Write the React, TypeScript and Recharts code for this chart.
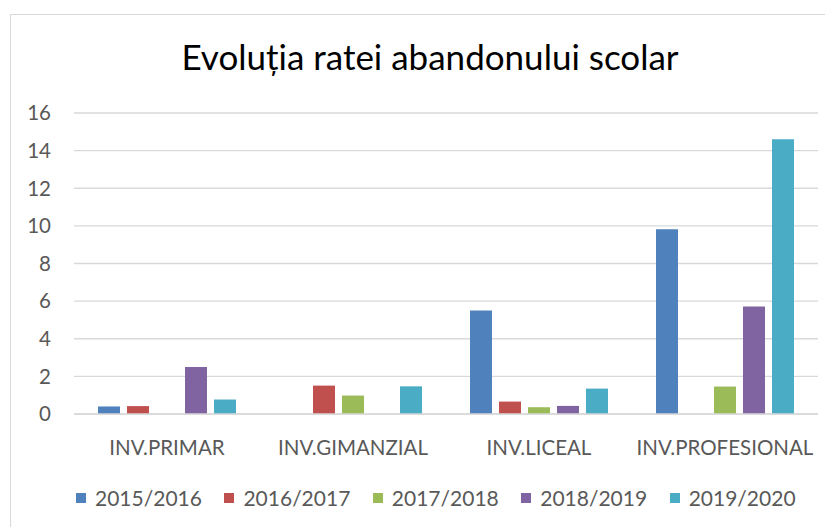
import React from "react";
import { BarChart, Bar, XAxis, YAxis, CartesianGrid, Legend } from "recharts";

const categories = ["INV.PRIMAR", "INV.GIMANZIAL", "INV.LICEAL", "INV.PROFESIONAL"];
const s2015 = [0.4, 0, 5.5, 9.82];
const s2016 = [0.42, 1.51, 0.66, 0];
const s2017 = [0, 0.98, 0.36, 1.46];
const s2018 = [2.5, 0, 0.43, 5.71];
const s2019 = [0.77, 1.47, 1.35, 14.61];
const seriesNames = ["2015/2016", "2016/2017", "2017/2018", "2018/2019", "2019/2020"];
const seriesColors = ["#4F81BD", "#C0504D", "#9BBB59", "#8064A2", "#4BACC6"];
const yTicks = [0, 2, 4, 6, 8, 10, 12, 14, 16];

const seriesValues = [s2015, s2016, s2017, s2018, s2019];
const data = categories.map((c, i) => {
  const row: Record<string, string | number> = { name: c };
  seriesNames.forEach((s, k) => {
    row[s] = seriesValues[k][i];
  });
  return row;
});

const FONT = "Lato, 'Open Sans', sans-serif";

const LegendContent = () => (
  <div
    style={{
      display: "flex",
      justifyContent: "flex-start",
      paddingLeft: 68,
      fontFamily: FONT,
      fontSize: 21,
      color: "#595959",
    }}
  >
    {seriesNames.map((s, i) => (
      <div key={s} style={{ display: "flex", alignItems: "center", width: 148.5 }}>
        <span
          style={{
            display: "inline-block",
            width: 10,
            height: 10,
            background: seriesColors[i],
            marginRight: 9,
          }}
        />
        <span>{s}</span>
      </div>
    ))}
  </div>
);

export default function App() {
  return (
    <div style={{ position: "relative", width: 825, height: 519, overflow: "hidden", background: "#fff" }}>
      <div
        style={{
          position: "absolute",
          left: 2,
          top: 6,
          width: 900,
          height: 600,
          border: "1.5px solid #d9d9d9",
          boxSizing: "border-box",
        }}
      />
      <div
        style={{
          position: "absolute",
          left: 0,
          width: 844,
          top: 26,
          textAlign: "center",
          fontFamily: FONT,
          fontSize: 35,
          color: "#000",
          lineHeight: "44px",
          whiteSpace: "nowrap",
        }}
      >
        Evoluția ratei abandonului scolar
      </div>
      <div style={{ position: "absolute", left: 0, top: 0 }}>
        <BarChart
          width={825}
          height={519}
          data={data}
          margin={{ top: 105, right: 15, bottom: 0, left: 0 }}
          barSize={22}
          barGap={7}
        >
          <CartesianGrid vertical={false} stroke="#d9d9d9" strokeWidth={1.3} />
          <XAxis
            dataKey="name"
            tickLine={false}
            axisLine={{ stroke: "#d9d9d9", strokeWidth: 1.5 }}
            tick={{ fill: "#595959", fontSize: 20.5, fontFamily: FONT }}
            tickMargin={20}
            interval={0}
            height={71}
          />
          <YAxis
            domain={[0, 16]}
            ticks={yTicks}
            width={66}
            tickLine={false}
            axisLine={false}
            tickMargin={17}
            tick={{ fill: "#595959", fontSize: 20.5, fontFamily: FONT }}
          />
          <Legend verticalAlign="bottom" height={42} content={<LegendContent />} />
          {seriesNames.map((s, i) => (
            <Bar key={s} dataKey={s} fill={seriesColors[i]} isAnimationActive={false} />
          ))}
        </BarChart>
      </div>
    </div>
  );
}
